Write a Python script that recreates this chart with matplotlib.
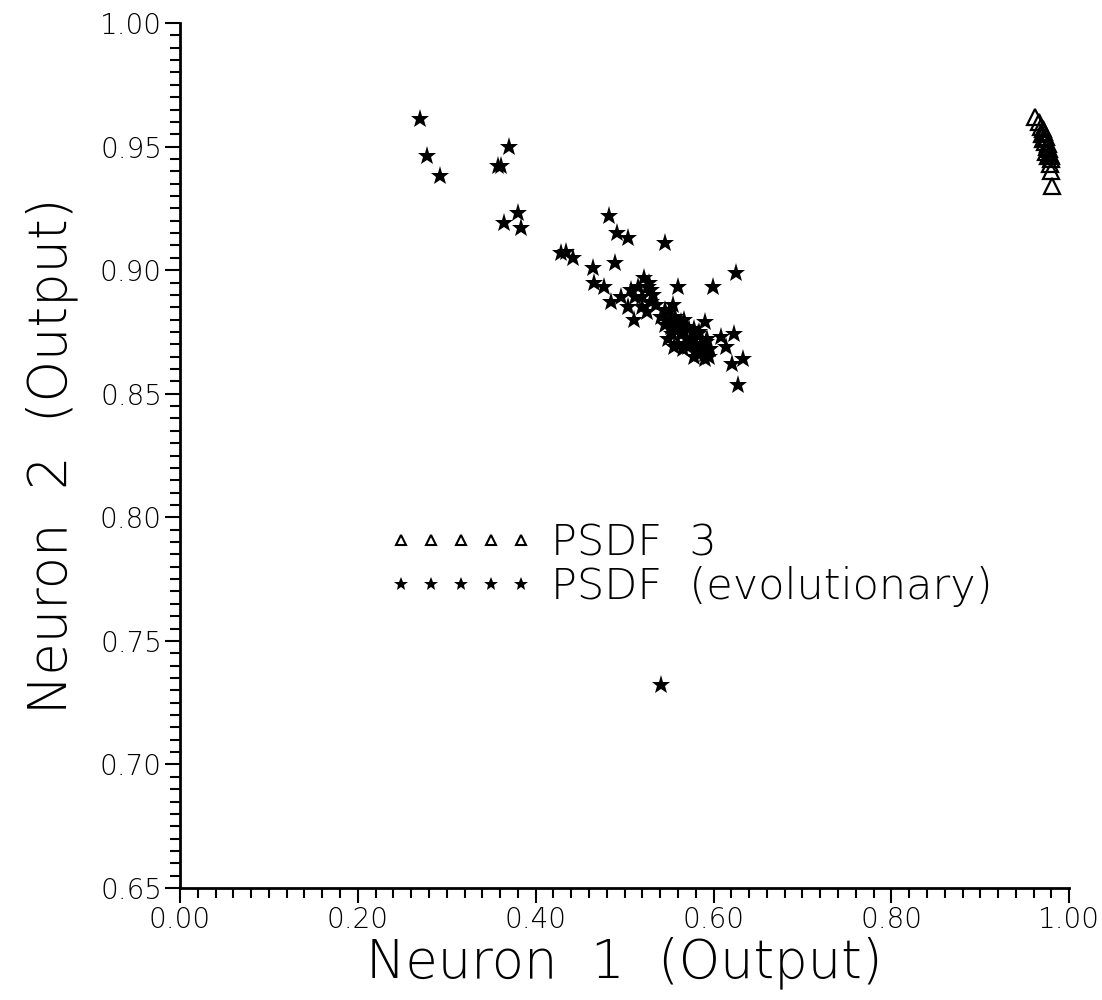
import matplotlib
matplotlib.use("Agg")
import matplotlib.pyplot as plt
from matplotlib.lines import Line2D
from matplotlib.ticker import MultipleLocator, FormatStrFormatter

# ---- data ----
psdf3_x = [0.962, 0.966, 0.968, 0.970, 0.969, 0.972, 0.971, 0.973, 0.974, 0.975,
           0.976, 0.974, 0.977, 0.978, 0.976, 0.979, 0.980, 0.978, 0.980, 0.981]
psdf3_y = [0.962, 0.960, 0.958, 0.957, 0.955, 0.956, 0.953, 0.952, 0.954, 0.950,
           0.951, 0.948, 0.949, 0.947, 0.946, 0.945, 0.946, 0.943, 0.940, 0.934]

evo_x = [0.270, 0.278, 0.292, 0.358, 0.361, 0.370, 0.364, 0.380, 0.383,
         0.429, 0.434, 0.442, 0.464, 0.483, 0.491, 0.504, 0.489, 0.545,
         0.625, 0.599, 0.560, 0.466, 0.477, 0.485, 0.511, 0.522, 0.526,
         0.507, 0.504, 0.496, 0.519, 0.530, 0.554, 0.545, 0.541, 0.552,
         0.549, 0.567, 0.563, 0.578, 0.571, 0.556, 0.575, 0.586, 0.582,
         0.590, 0.593, 0.593, 0.578, 0.590, 0.608, 0.623, 0.614, 0.621,
         0.633, 0.627, 0.541,
         0.515, 0.520, 0.530, 0.535, 0.512, 0.525, 0.548, 0.556, 0.560,
         0.565, 0.570, 0.575, 0.580, 0.585, 0.590, 0.595, 0.553, 0.560,
         0.566, 0.572, 0.578, 0.584, 0.588, 0.592, 0.596, 0.545, 0.550,
         0.557, 0.563, 0.569, 0.527, 0.532]
evo_y = [0.961, 0.946, 0.938, 0.942, 0.942, 0.950, 0.919, 0.923, 0.917,
         0.907, 0.9075, 0.905, 0.901, 0.922, 0.915, 0.913, 0.903, 0.911,
         0.899, 0.893, 0.893, 0.895, 0.893, 0.887, 0.880, 0.897, 0.893,
         0.892, 0.885, 0.889, 0.885, 0.887, 0.886, 0.884, 0.881, 0.877,
         0.872, 0.880, 0.874, 0.876, 0.869, 0.869, 0.872, 0.870, 0.874,
         0.879, 0.872, 0.868, 0.865, 0.864, 0.873, 0.874, 0.869, 0.862,
         0.864, 0.8535, 0.732,
         0.893, 0.889, 0.892, 0.886, 0.889, 0.883, 0.880, 0.878, 0.876,
         0.874, 0.872, 0.870, 0.868, 0.866, 0.866, 0.865, 0.874, 0.870,
         0.868, 0.876, 0.872, 0.875, 0.869, 0.871, 0.868, 0.878, 0.883,
         0.881, 0.879, 0.877, 0.895, 0.890]

x_ticks = [0.00, 0.20, 0.40, 0.60, 0.80, 1.00]
y_ticks = [0.65, 0.70, 0.75, 0.80, 0.85, 0.90, 0.95, 1.00]
label3 = "PSDF  3"
label_evo = "PSDF  (evolutionary)"
xlabel = "Neuron  1  (Output)"
ylabel = "Neuron  2  (Output)"

plt.rcParams['font.family'] = ['DejaVu Sans']
plt.rcParams['font.weight'] = 'light'
plt.rcParams['axes.labelweight'] = 'light'

fig = plt.figure(figsize=(11.02, 10.0), dpi=100)
ax = fig.add_axes([0.1633, 0.112, 0.807, 0.865])

ax.plot(psdf3_x, psdf3_y, linestyle='none', marker='^', markersize=12,
        markerfacecolor='none', markeredgecolor='black', markeredgewidth=1.6,
        clip_on=False)
ax.plot(evo_x, evo_y, linestyle='none', marker='*', markersize=14,
        color='black', markeredgewidth=0, clip_on=False)

ax.set_xlim(0.0, 1.0)
ax.set_ylim(0.65, 1.0)
ax.set_xticks(x_ticks)
ax.set_yticks(y_ticks)
ax.xaxis.set_minor_locator(MultipleLocator(0.02))
ax.yaxis.set_minor_locator(MultipleLocator(0.005))
ax.xaxis.set_major_formatter(FormatStrFormatter('%.2f'))
ax.yaxis.set_major_formatter(FormatStrFormatter('%.2f'))

for s in ['top', 'right']:
    ax.spines[s].set_visible(False)
for s in ['left', 'bottom']:
    ax.spines[s].set_linewidth(2.0)

ax.tick_params(which='major', direction='out', length=11, width=1.5,
               labelsize=20, pad=2)
ax.tick_params(which='minor', direction='out', length=7, width=1.5)

ax.set_xlabel(xlabel, fontsize=38, labelpad=2, fontweight='light')
ax.set_ylabel(ylabel, fontsize=38, labelpad=16, fontweight='light')

h3 = Line2D([], [], linestyle='none', marker='^', markersize=7.5,
            markerfacecolor='none', markeredgecolor='black', markeredgewidth=1.5)
he = Line2D([], [], linestyle='none', marker='*', markersize=10,
            color='black', markeredgewidth=0)
leg = ax.legend([h3, he], [label3, label_evo], numpoints=5, frameon=False,
                fontsize=31, handlelength=3.39, handletextpad=0.4,
                labelspacing=0.06, loc='upper left',
                bbox_to_anchor=(0.234, 0.423), borderaxespad=0, borderpad=0)

fig.savefig("out.png", dpi=100, facecolor='white')
